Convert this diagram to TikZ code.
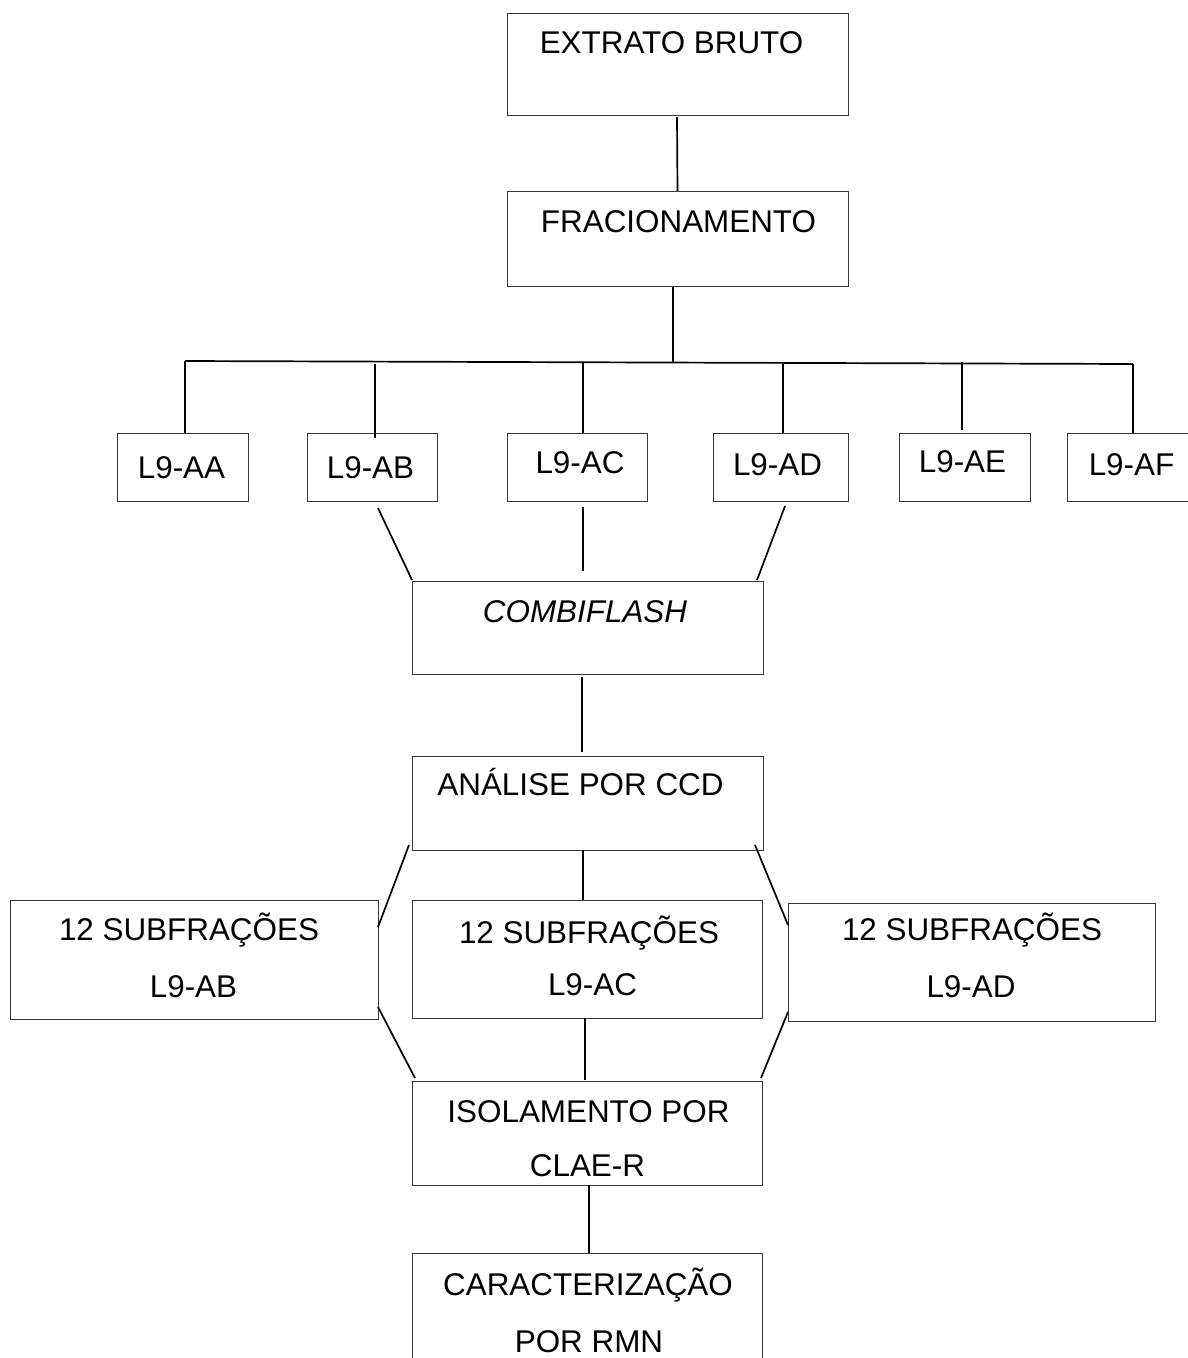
\documentclass[tikz,border=0pt]{standalone}
\usepackage{fontspec}
\setmainfont{Liberation Sans}
\begin{document}
\begin{tikzpicture}[x=1pt,y=-1pt,
  boxst/.style={draw={rgb,255:red,55;green,55;blue,55}, line width=1pt, inner sep=0pt, outer sep=0pt, rectangle},
  txt/.style={inner sep=0pt, outer sep=0pt, anchor=base, font=\fontsize{31.4}{37}\selectfont},
  conn/.style={draw=black, line width=1.7pt}]
\useasboundingbox (0,0) rectangle (1187,1358);
% boxes
\node[boxst, minimum width=341pt, minimum height=102pt] (ext) at (677.5,64) {};
\node[boxst, minimum width=341pt, minimum height=95pt] (frac) at (677.5,238.5) {};
\node[boxst, minimum width=131pt, minimum height=68pt] (aa) at (182.5,467) {};
\node[boxst, minimum width=130pt, minimum height=68pt] (ab) at (372,467) {};
\node[boxst, minimum width=140pt, minimum height=68pt] (ac) at (577,467) {};
\node[boxst, minimum width=135pt, minimum height=68pt] (ad) at (780.5,467) {};
\node[boxst, minimum width=131pt, minimum height=68pt] (ae) at (964.5,467) {};
\node[boxst, minimum width=125pt, minimum height=68pt] (af) at (1129.5,467) {};
\node[boxst, minimum width=351pt, minimum height=93pt] (comb) at (587.5,627.5) {};
\node[boxst, minimum width=351pt, minimum height=94pt] (ccd) at (587.5,803) {};
\node[boxst, minimum width=368pt, minimum height=119pt] (subL) at (194,959.5) {};
\node[boxst, minimum width=350pt, minimum height=118pt] (subM) at (587,959) {};
\node[boxst, minimum width=367pt, minimum height=118pt] (subR) at (971.5,962) {};
\node[boxst, minimum width=350pt, minimum height=104pt] (iso) at (587,1133) {};
\node[boxst, minimum width=350pt, minimum height=122pt] (car) at (587,1314) {};
% texts
\node[txt] (t-ext) at (671.5,53) {EXTRATO BRUTO};
\node[txt] (t-frac) at (678.5,232) {FRACIONAMENTO};
\node[txt] (t-aa) at (181.5,478) {L9-AA};
\node[txt] (t-ab) at (370.5,478) {L9-AB};
\node[txt] (t-ac) at (580,473) {L9-AC};
\node[txt] (t-ad) at (777.5,475) {L9-AD};
\node[txt] (t-ae) at (962.5,472) {L9-AE};
\node[txt] (t-af) at (1131.5,475) {L9-AF};
\node[txt] (t-comb) at (585,622) {\itshape COMBIFLASH};
\node[txt] (t-ccd) at (580.5,795) {ANÁLISE POR CCD};
\node[txt] (t-subL1) at (189,940) {12 SUBFRAÇÕES};
\node[txt] (t-subL2) at (193.5,997) {L9-AB};
\node[txt] (t-subM1) at (589,943) {12 SUBFRAÇÕES};
\node[txt] (t-subM2) at (592.5,995) {L9-AC};
\node[txt] (t-subR1) at (972,940) {12 SUBFRAÇÕES};
\node[txt] (t-subR2) at (971,997) {L9-AD};
\node[txt] (t-iso1) at (588.5,1122) {ISOLAMENTO POR};
\node[txt] (t-iso2) at (587.5,1176) {CLAE-R};
\node[txt] (t-car1) at (588,1295) {CARACTERIZAÇÃO};
\node[txt] (t-car2) at (589,1352) {POR RMN};
% bus coordinates
\coordinate (busL) at (185,361);
\coordinate (busR) at (1133,364);
\coordinate (busM) at (673,363);
\coordinate (b2) at (375,364);
\coordinate (b3) at (583,362);
\coordinate (b4) at (783,364);
\coordinate (b5) at (962,362);
% connectors
\draw[conn] ([shift={(-0.5,2)}]ext.south) -- (frac.north);
\draw[conn] ([shift={(-4.5,1)}]frac.south) -- (busM);
\draw[conn] (busL) -- (busR);
\draw[conn] (busL) -- (busL |- aa.north);
\draw[conn] (b2) -- ([yshift=-5pt]b2 |- ab.north);
\draw[conn] (b3) -- (b3 |- ac.north);
\draw[conn] (b4) -- (b4 |- ad.north);
\draw[conn] (b5) -- ([yshift=3pt]b5 |- ae.north);
\draw[conn] (busR) -- (busR |- af.north);
\draw[conn] ([shift={(6,7)}]ab.south) -- ([shift={(0,-1)}]comb.north west);
\draw[conn] ([shift={(6,6)}]ac.south) -- ([shift={(-4.5,-10)}]comb.north);
\draw[conn] ([shift={(4.5,5)}]ad.south) -- ([shift={(-6,-1)}]comb.north east);
\draw[conn] ([shift={(-5.5,3)}]comb.south) -- ([shift={(-5.5,-4)}]ccd.north);
\draw[conn] ([shift={(-3,-5)}]ccd.south west) -- ([shift={(0,27)}]subL.north east);
\draw[conn] ([shift={(-4.5,0)}]ccd.south) -- ([shift={(-4,0)}]subM.north);
\draw[conn] ([shift={(-8,-5)}]ccd.south east) -- ([shift={(0,22)}]subR.north west);
\draw[conn] ([shift={(0,-12)}]subL.south east) -- ([shift={(3,-3)}]iso.north west);
\draw[conn] ([shift={(-2,0)}]subM.south) -- ([shift={(-2,-1)}]iso.north);
\draw[conn] ([shift={(0,-9)}]subR.south west) -- ([shift={(-1,-3)}]iso.north east);
\draw[conn] ([shift={(2,0)}]iso.south) -- ([shift={(2,0)}]car.north);
\end{tikzpicture}
\end{document}
